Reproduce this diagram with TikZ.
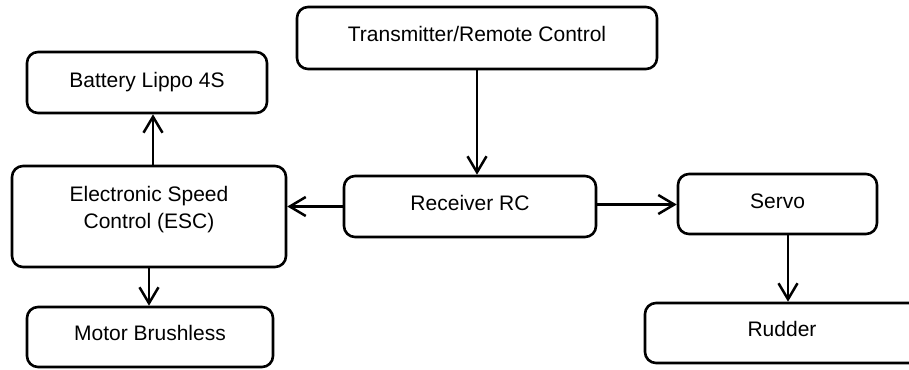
\documentclass[tikz,border=0pt]{standalone}
\usepackage{fontspec}
\setmainfont{Liberation Sans}
\usetikzlibrary{arrows.meta}

\tikzset{
  block/.style={draw=black, line width=2.6pt, rounded corners=11pt, fill=white,
                inner sep=0pt},
  caption/.style={font=\fontsize{21}{26.6}\selectfont, text=black, inner sep=0pt,
                  anchor=base, align=center},
  link/.style={line width=2.5pt, draw=black,
               -{Straight Barb[length=16pt,width=19pt,line width=2.5pt]}},
}

\begin{document}
\begin{tikzpicture}[x=1pt, y=-1pt]
  \useasboundingbox[fill=white] (0,0) rectangle (909,369);

  \begin{scope}
    \clip (0,0) rectangle (909,369);

    % blocks
    \node[block, minimum width=360pt, minimum height=62pt] (tx)     at (477,38)    {};
    \node[block, minimum width=240pt, minimum height=61pt] (bat)    at (147,82.5)  {};
    \node[block, minimum width=274pt, minimum height=101pt] (esc)   at (149,216.5) {};
    \node[block, minimum width=252pt, minimum height=61pt] (rx)     at (470,206.5) {};
    \node[block, minimum width=199pt, minimum height=60pt] (servo)  at (777.5,204) {};
    \node[block, minimum width=310pt, minimum height=60pt] (rudder) at (800,333)   {};
    \node[block, minimum width=246pt, minimum height=60pt] (motor)  at (150,337)   {};

    % block captions
    \node[caption] (txT)     at ([yshift=-3.7pt]tx.center)     {Transmitter/Remote Control};
    \node[caption] (batT)    at ([yshift=-4.8pt]bat.center)    {Battery Lippo 4S};
    \node[caption] (escT)    at ([yshift=-11.8pt]esc.center)   {Electronic Speed\\Control (ESC)};
    \node[caption] (rxT)     at ([yshift=-4.2pt]rx.center)     {Receiver RC};
    \node[caption] (servoT)  at ([yshift=-4.3pt]servo.center)  {Servo};
    \node[caption] (rudderT) at ([xshift=-18pt,yshift=-3.7pt]rudder.center) {Rudder};
    \node[caption] (motorT)  at ([yshift=-3.7pt]motor.center)  {Motor Brushless};

    % signal and power flow
    \draw[link] (tx.south) -- (tx.south |- rx.north);
    \draw[link] (rx.west) -- (rx.west -| esc.east);
    \draw[link] ([yshift=2pt]rx.east) -- ([yshift=2pt]rx.east -| servo.west);
    \draw[link] ([xshift=4pt]esc.north) -- ([xshift=4pt]esc.north |- bat.south);
    \draw[link] (esc.south) -- (esc.south |- motor.north);
    \draw[link] ([xshift=10.5pt]servo.south) -- ([xshift=10.5pt]servo.south |- rudder.north);
  \end{scope}
\end{tikzpicture}
\end{document}
